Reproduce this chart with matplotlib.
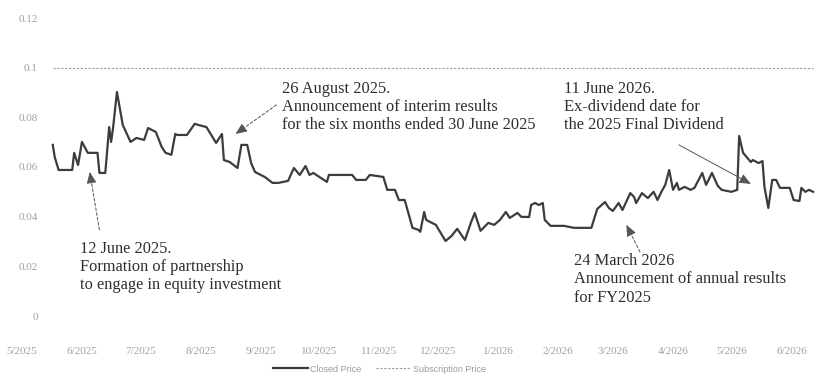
import matplotlib
matplotlib.use("Agg")
import matplotlib.pyplot as plt
import matplotlib.dates as mdates
import numpy as np
import pandas as pd

close_dates = [
    "2025-05-17", "2025-05-18", "2025-05-20", "2025-05-27", "2025-05-28", "2025-05-30",
    "2025-06-01", "2025-06-04", "2025-06-09", "2025-06-10", "2025-06-13", "2025-06-15",
    "2025-06-16", "2025-06-17", "2025-06-19", "2025-06-22", "2025-06-26", "2025-06-29",
    "2025-07-03", "2025-07-05", "2025-07-09", "2025-07-12", "2025-07-14", "2025-07-17",
    "2025-07-19", "2025-07-20", "2025-07-25", "2025-07-29", "2025-07-31", "2025-08-04",
    "2025-08-09", "2025-08-12", "2025-08-13", "2025-08-16", "2025-08-20", "2025-08-22",
    "2025-08-25", "2025-08-27", "2025-08-29", "2025-09-03", "2025-09-07", "2025-09-10",
    "2025-09-15", "2025-09-18", "2025-09-21", "2025-09-24", "2025-09-26", "2025-09-28",
    "2025-10-05", "2025-10-06", "2025-10-18", "2025-10-20", "2025-10-25", "2025-10-27",
    "2025-11-03", "2025-11-05", "2025-11-09", "2025-11-11", "2025-11-14", "2025-11-18",
    "2025-11-21", "2025-11-22", "2025-11-24", "2025-11-25", "2025-11-30", "2025-12-05",
    "2025-12-08", "2025-12-11", "2025-12-15", "2025-12-18", "2025-12-20", "2025-12-23",
    "2025-12-27", "2025-12-30", "2026-01-02", "2026-01-05", "2026-01-07", "2026-01-11",
    "2026-01-13", "2026-01-17", "2026-01-18", "2026-01-20", "2026-01-22", "2026-01-24",
    "2026-01-25", "2026-01-28", "2026-02-04", "2026-02-09", "2026-02-18", "2026-02-21",
    "2026-02-25", "2026-02-27", "2026-03-01", "2026-03-04", "2026-03-06", "2026-03-10",
    "2026-03-12", "2026-03-13", "2026-03-16", "2026-03-19", "2026-03-22", "2026-03-24",
    "2026-03-26", "2026-03-28", "2026-03-30", "2026-04-01", "2026-04-03", "2026-04-04",
    "2026-04-07", "2026-04-10", "2026-04-12", "2026-04-16", "2026-04-18", "2026-04-21",
    "2026-04-24", "2026-04-26", "2026-05-01", "2026-05-04", "2026-05-05", "2026-05-07",
    "2026-05-11", "2026-05-12", "2026-05-15", "2026-05-17", "2026-05-18", "2026-05-20",
    "2026-05-22", "2026-05-24", "2026-05-26", "2026-05-31", "2026-06-02", "2026-06-05",
    "2026-06-06", "2026-06-08", "2026-06-10", "2026-06-12",
]
close_values = [
    0.0689, 0.0640, 0.0588, 0.0588, 0.0657, 0.0608,
    0.0701, 0.0657, 0.0657, 0.0576, 0.0576, 0.0761,
    0.0701, 0.0757, 0.0902, 0.0769, 0.0701, 0.0717,
    0.0709, 0.0757, 0.0741, 0.0681, 0.0657, 0.0649,
    0.0733, 0.0729, 0.0729, 0.0774, 0.0769, 0.0761,
    0.0697, 0.0733, 0.0628, 0.0620, 0.0596, 0.0689,
    0.0689, 0.0616, 0.0580, 0.0560, 0.0536, 0.0536,
    0.0544, 0.0596, 0.0568, 0.0604, 0.0568, 0.0576,
    0.0540, 0.0568, 0.0568, 0.0548, 0.0548, 0.0568,
    0.0560, 0.0508, 0.0508, 0.0467, 0.0467, 0.0355,
    0.0347, 0.0339, 0.0419, 0.0387, 0.0367, 0.0302,
    0.0322, 0.0351, 0.0306, 0.0375, 0.0415, 0.0343,
    0.0375, 0.0367, 0.0387, 0.0419, 0.0395, 0.0415,
    0.0399, 0.0399, 0.0447, 0.0455, 0.0447, 0.0455,
    0.0387, 0.0363, 0.0363, 0.0355, 0.0355, 0.0431,
    0.0459, 0.0435, 0.0423, 0.0455, 0.0427, 0.0495,
    0.0479, 0.0455, 0.0495, 0.0475, 0.0500, 0.0467,
    0.0500, 0.0528, 0.0588, 0.0508, 0.0536, 0.0508,
    0.0520, 0.0508, 0.0516, 0.0576, 0.0528, 0.0576,
    0.0524, 0.0508, 0.0500, 0.0508, 0.0725, 0.0657,
    0.0620, 0.0628, 0.0616, 0.0624, 0.0520, 0.0435,
    0.0548, 0.0548, 0.0516, 0.0516, 0.0467, 0.0463,
    0.0516, 0.0500, 0.0508, 0.0500,
]
subscription_dates = ["2025-05-17", "2026-06-12"]
subscription_values = [0.1, 0.1]

y_ticks = [0, 0.02, 0.04, 0.06, 0.08, 0.1, 0.12]
y_tick_labels = ["0", "0.02", "0.04", "0.06", "0.08", "0.1", "0.12"]
x_tick_dates = pd.date_range("2025-05-01", "2026-06-01", freq="MS")
x_tick_labels = [f"{d.month}/{d.year}" for d in x_tick_dates]

# annotations: text, text anchor (date, value), arrow tail, arrow tip, dashed?
annotations = [
    ("12 June 2025.\nFormation of partnership\nto engage in equity investment",
     ("2025-05-31", 0.0304), ("2025-06-10", 0.0347), ("2025-06-05", 0.0580), True),
    ("26 August 2025.\nAnnouncement of interim results\nfor the six months ended 30 June 2025",
     ("2025-09-12", 0.0945), ("2025-09-09", 0.0850), ("2025-08-19", 0.0733), True),
    ("11 June 2026.\nEx-dividend date for\nthe 2025 Final Dividend",
     ("2026-02-04", 0.0945), ("2026-04-04", 0.0689), ("2026-05-11", 0.0532), False),
    ("24 March 2026\nAnnouncement of annual results\nfor FY2025",
     ("2026-02-09", 0.0252), ("2026-03-15", 0.0258), ("2026-03-08", 0.0367), True),
]

fig = plt.figure(figsize=(8.16, 3.76), dpi=100)
ax = fig.add_axes([10 / 816, 60 / 376, 805 / 816, 298 / 376])

cd = pd.to_datetime(close_dates)
sd = pd.to_datetime(subscription_dates)
l1, = ax.plot(cd, close_values, color="#3c3c3c", lw=1.6, label="Closed Price")
l2, = ax.plot(sd, subscription_values, color="#9a9a9a", lw=0.8, ls=(0, (2, 1.5)),
              label="Subscription Price")

ax.set_xlim(pd.Timestamp("2025-04-25"), pd.Timestamp("2026-06-13"))
ax.set_ylim(0, 0.12)
ax.set_yticks(y_ticks)
ax.set_yticklabels(y_tick_labels)
ax.set_xticks(x_tick_dates)
ax.set_xticklabels(x_tick_labels)
for s in ax.spines.values():
    s.set_visible(False)
ax.tick_params(axis="both", length=0, colors="#a0a0a0", labelsize=8)
ax.tick_params(axis="y", pad=-20)
ax.tick_params(axis="x", pad=22)
for t in ax.get_xticklabels() + ax.get_yticklabels():
    t.set_fontfamily("Liberation Serif")

fig.canvas.draw()
for text, tpos, tail, tip, dashed in annotations:
    ax.text(pd.Timestamp(tpos[0]), tpos[1], text, ha="left", va="top",
            fontsize=11.8, family="Liberation Serif", color="#2e2e2e", linespacing=1.17)
    tip_xy = (mdates.date2num(pd.Timestamp(tip[0])), tip[1])
    tail_xy = (mdates.date2num(pd.Timestamp(tail[0])), tail[1])
    ax.annotate("", xy=tip_xy, xytext=tail_xy,
                arrowprops=dict(arrowstyle="-", color="#555555", lw=0.7,
                                ls=(0, (3, 2)) if dashed else "-",
                                shrinkA=0, shrinkB=2))
    p_tip = ax.transData.transform(tip_xy)
    p_tail = ax.transData.transform(tail_xy)
    d = (p_tail - p_tip) / np.linalg.norm(p_tail - p_tip)
    off = d * 9 * 0.72
    ax.annotate("", xy=tip_xy, xytext=(off[0], off[1]), textcoords="offset points",
                arrowprops=dict(arrowstyle="-|>,head_length=0.7,head_width=0.3",
                                color="#555555", lw=0.6, shrinkA=0, shrinkB=0))

leg = fig.legend(handles=[l1, l2], loc="lower center", bbox_to_anchor=(0.465, -0.015),
                 ncol=2, frameon=False, prop={"family": "Liberation Sans", "size": 6.5},
                 handlelength=3.9, columnspacing=1.7, handletextpad=0.2)
for t in leg.get_texts():
    t.set_color("#9a9a9a")

fig.savefig("out.png", dpi=100)
